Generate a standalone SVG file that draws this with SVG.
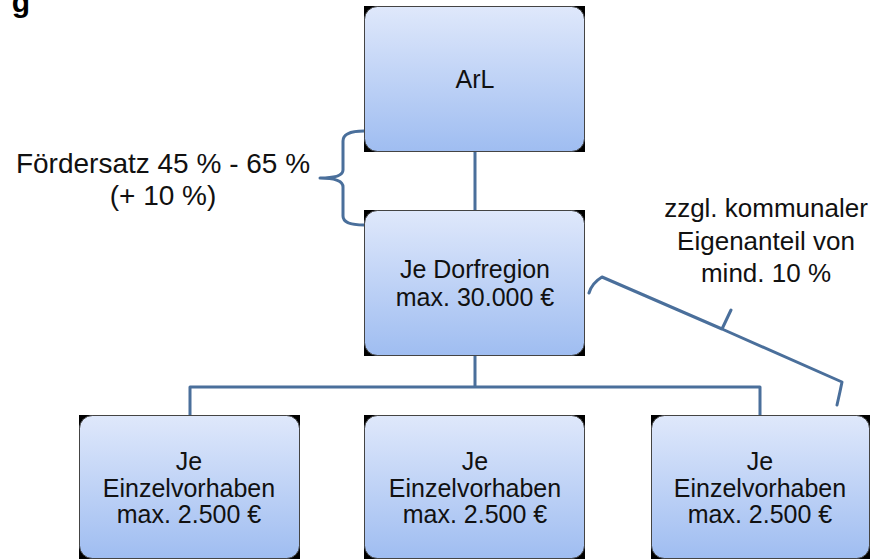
<svg xmlns="http://www.w3.org/2000/svg" width="882" height="559" viewBox="0 0 882 559">
<style>
.corner{fill:#000}
.box{fill:url(#g);stroke:#444;stroke-width:1}
.t{font-family:"Liberation Sans",Arial,sans-serif;font-size:25px;fill:#111;text-anchor:middle}
.a{font-family:"Liberation Sans",Arial,sans-serif;font-size:26px;fill:#111;text-anchor:middle}
.c{fill:none;stroke:#4a6f9b;stroke-width:3;stroke-linejoin:round;stroke-linecap:round}
</style>
<defs>
<linearGradient id="g" x1="0" y1="0" x2="0" y2="1">
<stop offset="0" stop-color="#dfe8fb"/>
<stop offset="1" stop-color="#9fbdf1"/>
</linearGradient>
</defs>
<rect width="882" height="559" fill="#fff"/>
<text x="21" y="12" style="font-family:'Liberation Sans',Arial,sans-serif;font-size:30px;font-weight:bold;fill:#000" text-anchor="middle">g</text>
<g id="connectors">
<path class="c" d="M475 152V210"/>
<path class="c" d="M475 356V387M190 415V387H760V415"/>
<path class="c" d="M364 131Q343 131 343 141V170Q343 178 320 178Q343 178 343 187V216Q343 225 364 225"/>
<path class="c" d="M589 293Q592 283 602 277L722 329L731 310M722 329L842 382Q840 392 837 405"/>
</g>
<g id="n-arl">
<rect class="corner" x="364" y="6" width="221" height="146"/>
<rect class="box" x="364.5" y="6.5" width="220" height="145" rx="13"/>
<text class="t" x="475" y="88">ArL</text>
</g>
<g id="n-dorf">
<rect class="corner" x="364" y="210" width="221" height="146"/>
<rect class="box" x="364.5" y="210.5" width="220" height="145" rx="13"/>
<text class="t" x="475" y="278">Je Dorfregion</text>
<text class="t" x="475" y="306">max. 30.000 €</text>
</g>
<g id="n-e1">
<rect class="corner" x="79" y="415" width="221" height="144"/>
<rect class="box" x="79.5" y="415.5" width="220" height="143" rx="13"/>
<text class="t" x="189" y="470">Je</text>
<text class="t" x="189" y="497">Einzelvorhaben</text>
<text class="t" x="189" y="523">max. 2.500 €</text>
</g>
<g id="n-e2">
<rect class="corner" x="364" y="415" width="221" height="144"/>
<rect class="box" x="364.5" y="415.5" width="220" height="143" rx="13"/>
<text class="t" x="475" y="470">Je</text>
<text class="t" x="475" y="497">Einzelvorhaben</text>
<text class="t" x="475" y="523">max. 2.500 €</text>
</g>
<g id="n-e3">
<rect class="corner" x="651" y="415" width="219" height="144"/>
<rect class="box" x="651.5" y="415.5" width="218" height="143" rx="13"/>
<text class="t" x="760" y="470">Je</text>
<text class="t" x="760" y="497">Einzelvorhaben</text>
<text class="t" x="760" y="523">max. 2.500 €</text>
</g>
<g id="label-foerder">
<text class="a" x="163" y="173" style="font-size:28px">Fördersatz 45 % - 65 %</text>
<text class="a" x="163" y="205" style="font-size:28px">(+ 10 %)</text>
</g>
<g id="label-eigen">
<text class="a" x="766" y="217">zzgl. kommunaler</text>
<text class="a" x="766" y="250">Eigenanteil von</text>
<text class="a" x="766" y="282">mind. 10 %</text>
</g>
</svg>
